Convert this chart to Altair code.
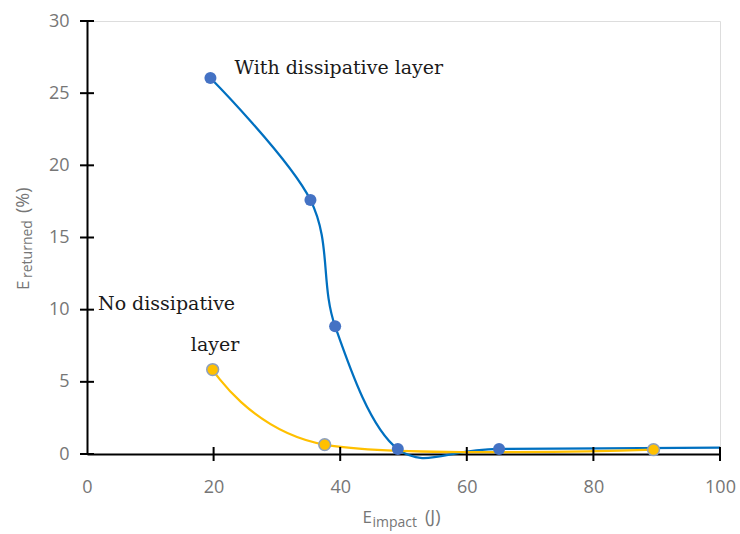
import altair as alt
import pandas as pd

# Data
blue_x = [19.5, 35.3, 39.2, 49.1, 65.1, 100.0]
blue_y = [26.05, 17.6, 8.85, 0.35, 0.35, 0.45]
blue_marker = [True, True, True, True, True, False]
yellow_x = [19.85, 37.55, 89.5]
yellow_y = [5.85, 0.65, 0.3]

x_ticks = [0, 20, 40, 60, 80, 100]
y_ticks = [0, 5, 10, 15, 20, 25, 30]

labels_text = ["With dissipative layer", "No dissipative", "layer"]
labels_x = [23.3, 1.74, 16.4]
labels_y = [26.35, 9.99, 7.16]

W, H = 633, 433
GRAY = "#767676"
SANS = "Open Sans"
SERIF = "DejaVu Serif"

blue = pd.DataFrame({"x": blue_x, "y": blue_y, "m": blue_marker})
yellow = pd.DataFrame({"x": yellow_x, "y": yellow_y})
lab = pd.DataFrame({"t": labels_text, "x": labels_x, "y": labels_y})
xt = pd.DataFrame({"v": x_ticks})
yt = pd.DataFrame({"v": y_ticks})

xs = alt.Scale(domain=[0, 100], nice=False, zero=False)
ys = alt.Scale(domain=[0, 30], nice=False, zero=False)

xax = alt.Axis(values=x_ticks, title=None, ticks=False, grid=False, domainColor="black",
               domainWidth=2, labelFont=SANS, labelFontSize=18, labelColor=GRAY,
               labelPadding=24, labelFlush=False)
yax = alt.Axis(values=y_ticks, title=None, ticks=False, grid=False, domainColor="black",
               domainWidth=2, labelFont=SANS, labelFontSize=18, labelColor=GRAY,
               labelPadding=18)

base_x = alt.X("x:Q", scale=xs, axis=xax)
base_y = alt.Y("y:Q", scale=ys, axis=yax)

blue_line = alt.Chart(blue).mark_line(color="#0070C0", strokeWidth=2.25,
                                      interpolate="cardinal", tension=0).encode(
    x=base_x, y=base_y, order="x:Q")
yellow_line = alt.Chart(yellow).mark_line(color="#FFC000", strokeWidth=2.25,
                                          interpolate="cardinal", tension=0).encode(
    x="x:Q", y="y:Q", order="x:Q")
yellow_pts = alt.Chart(yellow).mark_point(filled=True, shape="circle", size=140, opacity=1,
                                          fill="#FFC000", stroke="#8EA0BE", strokeWidth=1.5).encode(
    x="x:Q", y="y:Q")
blue_pts = alt.Chart(blue).transform_filter("datum.m").mark_point(
    filled=True, shape="circle", size=145, opacity=1, color="#4472C4").encode(
    x="x:Q", y="y:Q")

labels = alt.Chart(lab).mark_text(font=SERIF, fontSize=19, align="left",
                                  baseline="alphabetic", color="#1a1a1a").encode(
    x="x:Q", y="y:Q", text="t:N")

yticks = alt.Chart(yt).mark_rule(color="black", strokeWidth=2).encode(
    y=alt.Y("v:Q", scale=ys), x=alt.value(-7), x2=alt.value(7))
xticks = alt.Chart(xt).transform_filter("datum.v > 0").mark_rule(color="black", strokeWidth=2).encode(
    x=alt.X("v:Q", scale=xs), y=alt.value(H - 7), y2=alt.value(H + 7))

one = pd.DataFrame({"a": [0]})

def title_part(txt, px, py, size, angle=0):
    kw = dict(font=SANS, fontSize=size, color=GRAY, align="left", baseline="alphabetic", text=txt)
    if angle:
        kw["angle"] = angle
    return alt.Chart(one).mark_text(**kw).encode(x=alt.value(px), y=alt.value(py))

titles = [
    title_part("E", 275.4, 502.3, 17),
    title_part("impact", 285.5, 506.3, 14),
    title_part("(J)", 338, 502.3, 18),
    title_part("E", -58, 269, 17, 270),
    title_part("returned", -55, 257, 14, 270),
    title_part("(%)", -58, 192, 18, 270),
]

chart = alt.layer(blue_line, yellow_line, yellow_pts, blue_pts, labels, yticks, xticks, *titles).properties(
    width=W, height=H,
    autosize=alt.AutoSizeParams(type="none"),
    padding={"left": 87, "top": 21, "right": 20, "bottom": 80},
).configure_view(stroke=None).configure(background="white")

chart.save("out.html", embed_options={"renderer": "svg", "actions": False})
